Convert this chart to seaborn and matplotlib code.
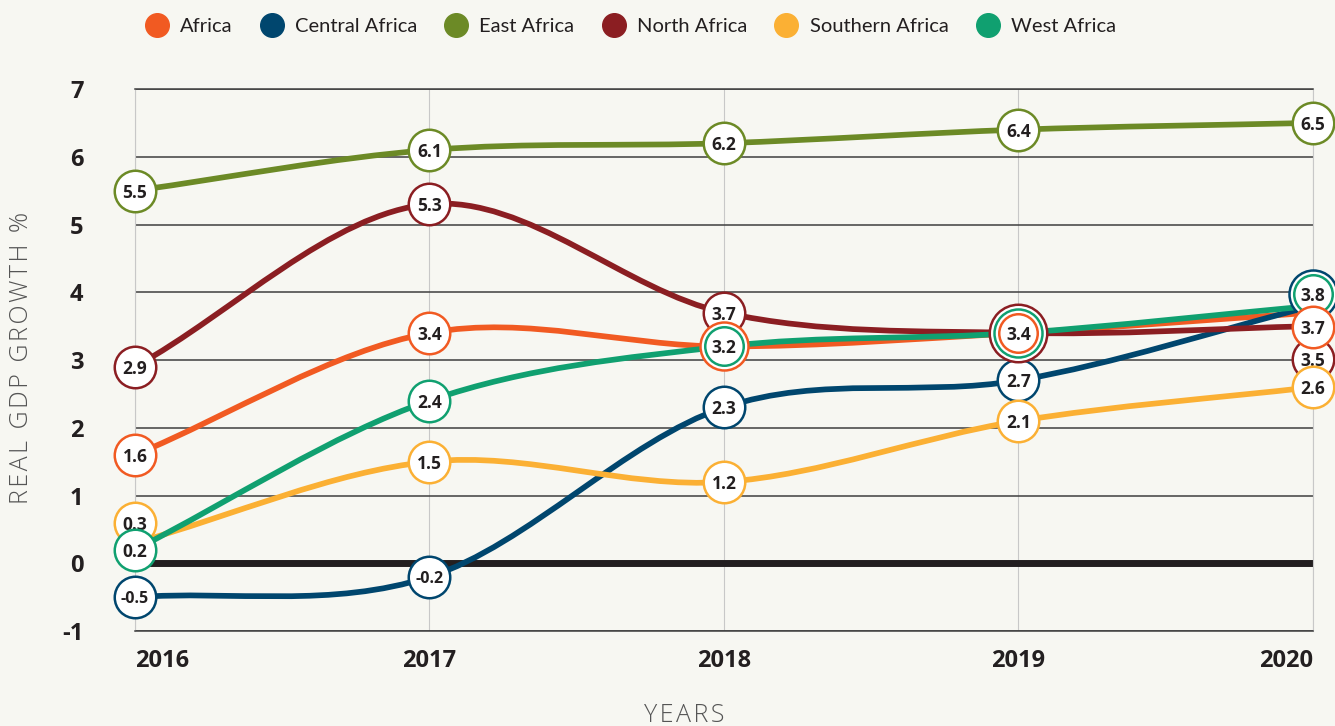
import numpy as np
import pandas as pd
import matplotlib
matplotlib.use('Agg')
import matplotlib.pyplot as plt
from matplotlib.path import Path
from matplotlib.patches import PathPatch
from matplotlib.lines import Line2D
from matplotlib.transforms import offset_copy
from matplotlib import font_manager
import seaborn as sns

# --- data ---
years = [2016, 2017, 2018, 2019, 2020]
regions = ['Africa', 'Central Africa', 'East Africa', 'North Africa', 'Southern Africa', 'West Africa']
africa = [1.6, 3.4, 3.2, 3.4, 3.7]
central_africa = [-0.5, -0.2, 2.3, 2.7, 3.8]
east_africa = [5.5, 6.1, 6.2, 6.4, 6.5]
north_africa = [2.9, 5.3, 3.7, 3.4, 3.5]
southern_africa = [0.3, 1.5, 1.2, 2.1, 2.6]
west_africa = [0.2, 2.4, 3.2, 3.4, 3.8]
y_ticks = [-1, 0, 1, 2, 3, 4, 5, 6, 7]

series = dict(zip(regions, [africa, central_africa, east_africa,
                            north_africa, southern_africa, west_africa]))
df = pd.DataFrame([(r, yr, v) for r, vals in series.items() for yr, v in zip(years, vals)],
                  columns=['region', 'year', 'growth'])

palette = {
    'Africa': '#f15a22',
    'Central Africa': '#00466e',
    'East Africa': '#6c8a26',
    'North Africa': '#8b1e22',
    'Southern Africa': '#fbb034',
    'West Africa': '#10a070',
}

# label bubbles that are shifted (pixels, + is up) so they do not pile up
bubble_shift = {
    ('Southern Africa', 2016): 20,
    ('Central Africa', 2020): 12,
    ('West Africa', 2020): 12,
    ('Africa', 2020): -14,
    ('North Africa', 2020): -33,
}
# concentric rings where values coincide, outer -> inner
ring_order = {
    2018: ['Africa', 'West Africa'],
    2019: ['North Africa', 'West Africa', 'Africa'],
    2020: ['Central Africa', 'West Africa'],
}
draw_order = ['East Africa', 'North Africa', 'Central Africa', 'Southern Africa', 'West Africa', 'Africa']

BG = '#f7f7f2'
INK = '#231f20'

sns.set_theme(style='white', rc={'figure.facecolor': BG, 'axes.facecolor': BG})
plt.rcParams['font.family'] = ['Open Sans', 'DejaVu Sans']

available = {f.name for f in font_manager.fontManager.ttflist}
legend_font = 'Liberation Sans Narrow' if 'Liberation Sans Narrow' in available else 'Lato'

fig = plt.figure(figsize=(13.35, 7.26), dpi=100)
ax = fig.add_axes([0.10112, 0.13085, 0.8824, 0.74656])
ax.set_xlim(years[0], years[-1])
ax.set_ylim(y_ticks[0], y_ticks[-1])

# grid and frame
ax.set_yticks(y_ticks)
ax.set_xticks(years)
ax.grid(axis='y', color='#3f3f3f', lw=1.1, zorder=0)
ax.grid(axis='x', color='#c8c8c8', lw=0.8, zorder=0)
ax.set_axisbelow(True)
for side in ['left', 'right']:
    ax.spines[side].set_color('#c8c8c8')
    ax.spines[side].set_linewidth(0.8)
for side in ['top', 'bottom']:
    ax.spines[side].set_color('#3f3f3f')
    ax.spines[side].set_linewidth(1.1)
ax.axhline(0, color=INK, lw=5, zorder=2)


def spline_path(xs, ys):
    # cardinal (Catmull-Rom) spline turned into cubic bezier segments
    xs = np.asarray(xs, float)
    ys = np.asarray(ys, float)
    m = np.empty_like(ys)
    m[1:-1] = (ys[2:] - ys[:-2]) / (xs[2:] - xs[:-2])
    m[0] = (ys[1] - ys[0]) / (xs[1] - xs[0])
    m[-1] = (ys[-1] - ys[-2]) / (xs[-1] - xs[-2])
    verts = [(xs[0], ys[0])]
    codes = [Path.MOVETO]
    for i in range(len(xs) - 1):
        h = (xs[i + 1] - xs[i]) / 3
        verts += [(xs[i] + h, ys[i] + m[i] * h),
                  (xs[i + 1] - h, ys[i + 1] - m[i + 1] * h),
                  (xs[i + 1], ys[i + 1])]
        codes += [Path.CURVE4] * 3
    return Path(verts, codes)


for region in regions:
    sub = df[df.region == region]
    ax.add_patch(PathPatch(spline_path(sub.year, sub.growth), fill=False,
                           edgecolor=palette[region], lw=4.1, capstyle='round',
                           zorder=3, clip_on=False))

# value bubbles
px2pt = 72 / fig.dpi
for yr in years:
    at_year = df[df.year == yr]
    done = set()
    for region in draw_order:
        if region in done:
            continue
        val = at_year.loc[at_year.region == region, 'growth'].iloc[0]
        same = at_year[(at_year.growth == val)].region.tolist()
        if len(same) > 1:
            members = [r for r in ring_order.get(yr, same) if r in same]
        else:
            members = [region]
        done.update(members)
        base = 10 + 2 * max(draw_order.index(r) for r in members)
        shift = bubble_shift.get((members[0], yr), 0) * px2pt
        tr = offset_copy(ax.transData, fig=fig, x=0, y=shift, units='points')
        n = len(members)
        for k, r in enumerate(members):
            outer_px = (41 if n > 1 else 44) + 9.5 * (n - 1 - k)
            ax.scatter([yr], [val], s=((outer_px - 2.5) * px2pt) ** 2, facecolor='white',
                       edgecolor=palette[r], linewidth=1.8, transform=tr,
                       zorder=base + 0.1 * k, clip_on=False)
        label = f'{val:g}'
        ax.text(yr, val, label, transform=tr, ha='center', va='center_baseline',
                fontsize=11.5 if len(label) > 3 else 12.5, fontweight='bold', color=INK,
                zorder=base + 0.9, clip_on=False)

# ticks
ax.tick_params(axis='both', length=0, labelcolor=INK)
ax.tick_params(axis='y', pad=37)
ax.tick_params(axis='x', pad=13)
ax.set_yticklabels([str(t) for t in y_ticks], fontsize=17, fontweight='bold')
ax.set_xticklabels([str(y) for y in years], fontsize=17, fontweight='bold')
xt = ax.get_xticklabels()
xt[0].set_ha('left')
xt[-1].set_ha('right')
ax.set_xlabel('')
ax.set_ylabel('')

# wide letter spacing on the axis titles
spaced = lambda s: '\u200a'.join(s)
fig.text(22 / 1335, 1 - 358 / 726, spaced('REAL GDP GROWTH %'), rotation=90, ha='center',
         va='center', fontsize=18, fontweight='light', color='#555555')
fig.text(684 / 1335, 1 - 715 / 726, spaced('YEARS'), ha='center', va='center',
         fontsize=18, fontweight='light', color='#555555')

handles = [Line2D([], [], ls='', marker='o', markersize=17,
                  markerfacecolor=palette[r], markeredgecolor=palette[r]) for r in regions]
fig.legend(handles, regions, loc='center', bbox_to_anchor=(0.472, 0.963), ncol=6,
           frameon=False, handletextpad=0.55, columnspacing=1.35, handlelength=1.2,
           prop={'family': [legend_font, 'DejaVu Sans'], 'size': 14.5}, labelcolor=INK)

fig.savefig('out.png', dpi=100, facecolor=BG)
